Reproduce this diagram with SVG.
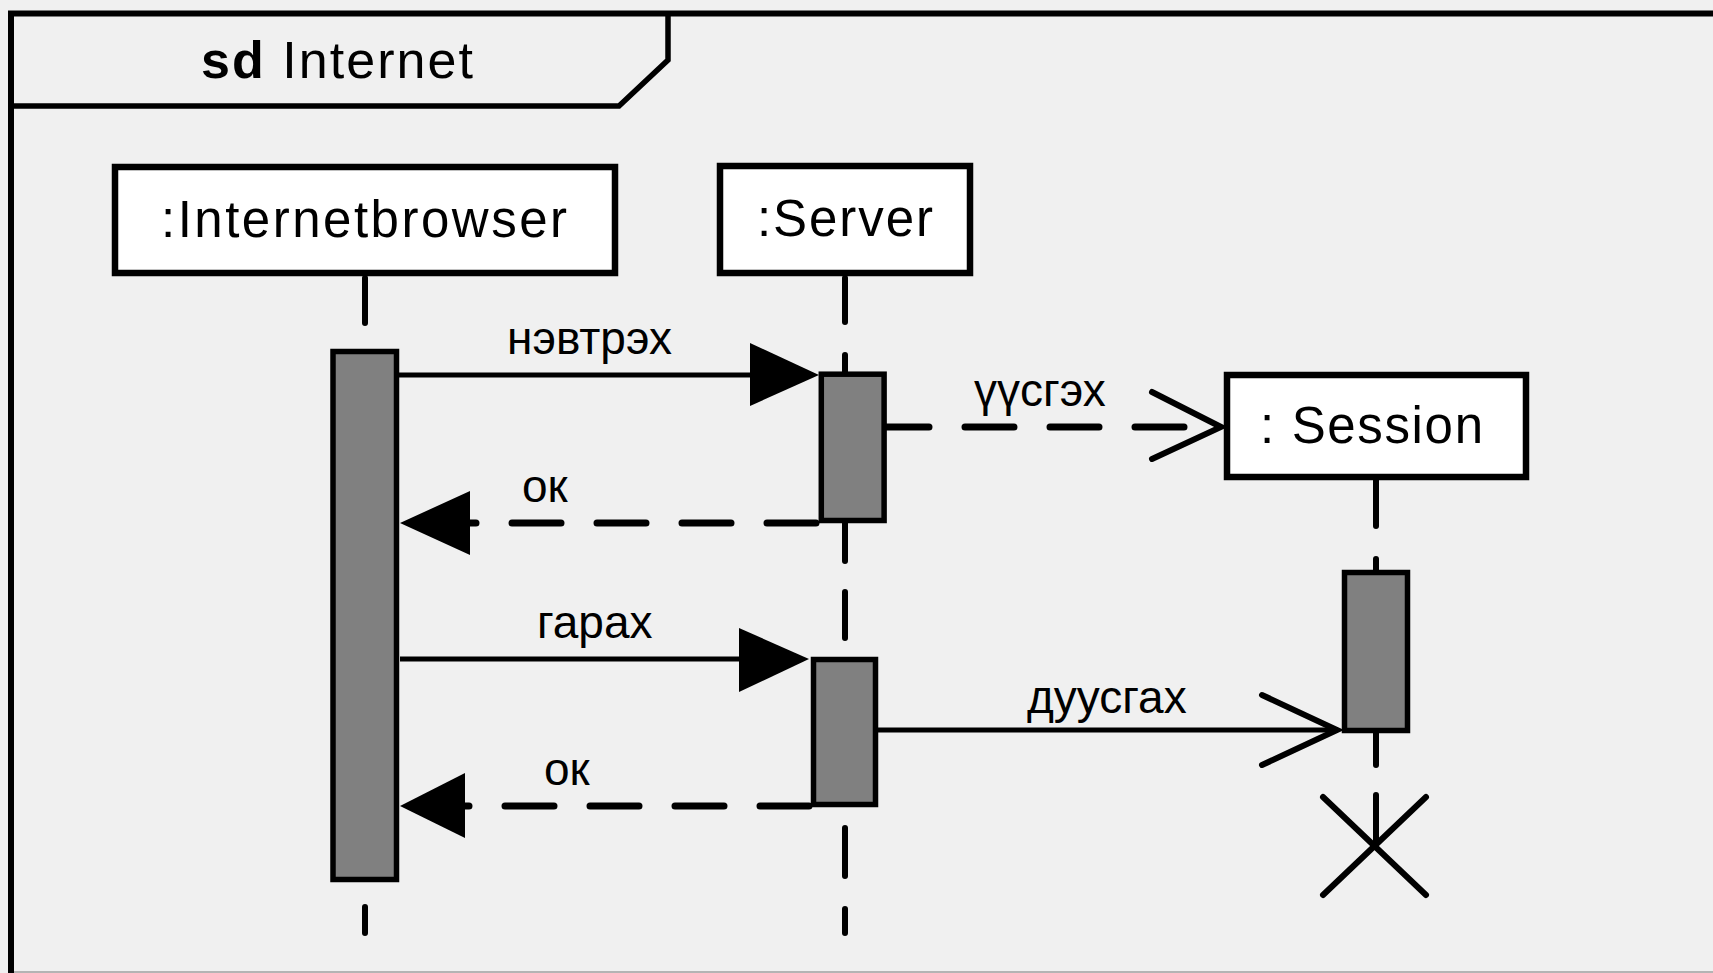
<svg xmlns="http://www.w3.org/2000/svg" width="1713" height="973" viewBox="0 0 1713 973">
<defs>
<style>
.bg{fill:#f0f0f0}
.frame{fill:none;stroke:#000;stroke-width:6}
.tab{fill:none;stroke:#000;stroke-width:5.5;stroke-linejoin:miter}
.box{fill:#fff;stroke:#000;stroke-width:6.5}
.act{fill:#808080;stroke:#000;stroke-width:5.5}
.life{stroke:#000;stroke-width:6;stroke-linecap:round;fill:none}
.msg{stroke:#000;stroke-width:5;fill:none}
.ret{stroke:#000;stroke-width:7;fill:none;stroke-linecap:round;stroke-dasharray:49 36}
.open{stroke:#000;stroke-width:6;fill:none;stroke-linecap:round;stroke-linejoin:miter}
.head{fill:#000}
.ntxt{font-family:"Liberation Sans",Arial,sans-serif;font-size:51px;fill:#000}
.ttl{font-family:"Liberation Sans",Arial,sans-serif;font-size:52px;fill:#000}
.lbl{font-family:"Liberation Sans",Arial,sans-serif;font-size:46px;fill:#000}
</style>
</defs>
<rect class="bg" x="0" y="0" width="1713" height="973"/>
<line x1="8" y1="972" x2="1713" y2="972" stroke="#a0a0a0" stroke-width="1.5"/>
<g id="frame">
<path class="frame" d="M11,973 L11,13.5 L1713,13.5"/>
<path class="tab" d="M11,106 L619,106 L668,60 L668,13.5"/>
<text class="ttl" x="201" y="78" textLength="272" lengthAdjust="spacing"><tspan font-weight="bold">sd</tspan> Internet</text>
</g>
<g id="lifelines">
<line class="life" x1="365" y1="278" x2="365" y2="323"/>
<line class="life" x1="365" y1="907" x2="365" y2="933"/>
<line class="life" x1="845" y1="278" x2="845" y2="322"/>
<line class="life" x1="845" y1="355" x2="845" y2="374"/>
<line class="life" x1="845" y1="523" x2="845" y2="561"/>
<line class="life" x1="845" y1="592" x2="845" y2="638"/>
<line class="life" x1="845" y1="828" x2="845" y2="876"/>
<line class="life" x1="845" y1="909" x2="845" y2="933"/>
<line class="life" x1="1376" y1="480" x2="1376" y2="526"/>
<line class="life" x1="1376" y1="559" x2="1376" y2="572"/>
<line class="life" x1="1376" y1="733" x2="1376" y2="765"/>
<line class="life" x1="1376" y1="795" x2="1376" y2="842"/>
</g>
<g id="node-internetbrowser">
<rect class="box" x="115" y="167" width="500" height="106"/>
<text class="ntxt" x="161" y="237" textLength="406" lengthAdjust="spacing">:Internetbrowser</text>
</g>
<g id="node-server">
<rect class="box" x="720" y="166" width="250" height="107"/>
<text class="ntxt" x="757" y="236" textLength="176" lengthAdjust="spacing">:Server</text>
</g>
<g id="node-session">
<rect class="box" x="1227" y="375" width="299" height="102"/>
<text class="ntxt" x="1260" y="443" textLength="223" lengthAdjust="spacing">: Session</text>
</g>
<g id="connectors">
<line class="msg" x1="394" y1="375" x2="752" y2="375"/>
<polygon class="head" points="750,343 819,375 750,406"/>
<text class="lbl" x="507" y="354">нэвтрэх</text>
<path class="ret" d="M816,523 L470,523"/>
<polygon class="head" points="470,491 400,523 470,555"/>
<text class="lbl" x="522" y="502">ок</text>
<path class="ret" d="M880,427 L1216,427"/>
<polyline class="open" points="1152,392 1221,427 1152,459"/>
<text class="lbl" x="974" y="406">үүсгэх</text>
<line class="msg" x1="400" y1="659" x2="741" y2="659"/>
<polygon class="head" points="739,628 809,659 739,692"/>
<text class="lbl" x="537" y="638">гарах</text>
<path class="ret" d="M809,806 L465,806"/>
<polygon class="head" points="465,773 400,806 465,838"/>
<text class="lbl" x="544" y="785">ок</text>
<line class="msg" x1="878" y1="730" x2="1335" y2="730"/>
<polyline class="open" points="1262,695 1337,730 1262,765"/>
<text class="lbl" x="1027" y="713">дуусгах</text>
</g>
<g id="activation-browser">
<rect class="act" x="333" y="351.5" width="63.5" height="528"/>
</g>
<g id="activation-server-1">
<rect class="act" x="821.3" y="374.2" width="62.8" height="146.3"/>
</g>
<g id="activation-server-2">
<rect class="act" x="813.5" y="659.5" width="62" height="145"/>
</g>
<g id="activation-session">
<rect class="act" x="1344.5" y="572.5" width="63" height="158"/>
</g>
<g id="destroy-session">
<line class="open" x1="1323" y1="797" x2="1426" y2="895"/>
<line class="open" x1="1426" y1="797" x2="1323" y2="895"/>
</g>
</svg>
